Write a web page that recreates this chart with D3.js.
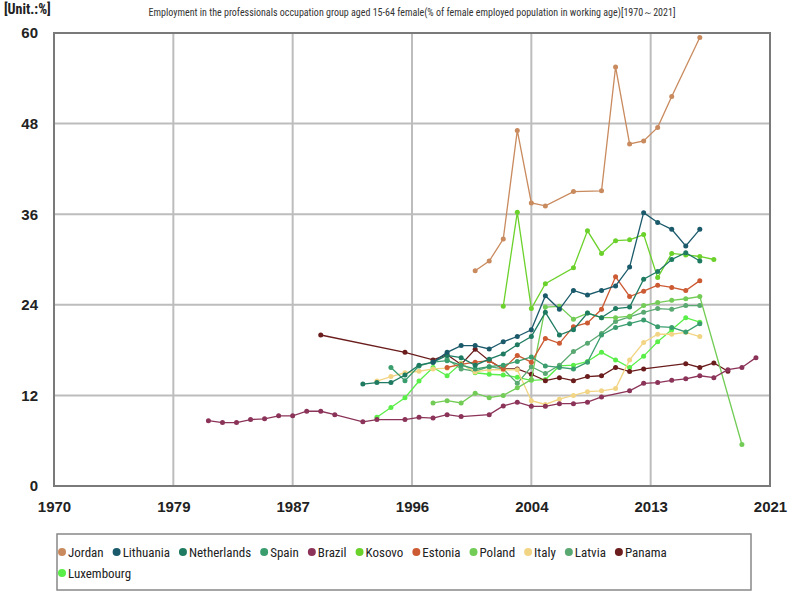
<!DOCTYPE html>
<html><head><meta charset="utf-8">
<script src="https://cdn.jsdelivr.net/npm/d3@7"></script>
<style>
body{margin:0;background:#fff;}
svg{font-family:"Liberation Sans Narrow","Roboto Condensed","Open Sans",sans-serif;}
</style></head>
<body><svg id="c" width="800" height="600"></svg>
<script>
const titleText = "Employment in the professionals occupation group aged 15-64 female(% of female employed population in working age)[1970～2021]";
const unitText = "[Unit.:%]";
const xTickValues = [1970, 1978.5, 1987, 1995.5, 2004, 2012.5, 2021];
const xTickLabels = ["1970", "1979", "1987", "1996", "2004", "2013", "2021"];
const yTickValues = [0, 12, 24, 36, 48, 60];

const seriesNames = ["Jordan","Lithuania","Netherlands","Spain","Brazil","Kosovo","Estonia","Poland","Italy","Latvia","Panama","Luxembourg"];
const seriesColors = ["#c98a5e","#1b5a6b","#1e7b62","#3a9d6e","#8b3358","#6bd12b","#cc5a32","#72cc55","#f2d584","#5aa872","#6b1d1d","#5aee48"];

const jordan = [[2000,28.5],[2001,29.8],[2002,32.7],[2003,47.1],[2004,37.5],[2005,37.1],[2007,39.0],[2009,39.1],[2010,55.5],[2011,45.3],[2012,45.7],[2013,47.5],[2014,51.6],[2016,59.4]];
const lithuania = [[1997,16.4],[1998,17.7],[1999,18.6],[2000,18.6],[2001,18.15],[2002,19.1],[2003,19.8],[2004,20.7],[2005,25.2],[2006,23.4],[2007,25.9],[2008,25.3],[2009,25.9],[2010,26.5],[2011,29.0],[2012,36.2],[2013,34.9],[2014,34.0],[2015,31.8],[2016,34.0]];
const netherlands = [[1992,13.5],[1993,13.7],[1994,13.7],[1995,14.7],[1996,16.0],[1997,16.4],[1998,17.3],[1999,17.0],[2000,16.0],[2001,16.8],[2002,17.5],[2003,18.7],[2004,19.8],[2005,23.0],[2006,20.0],[2007,20.7],[2008,22.9],[2009,22.3],[2010,23.5],[2011,23.7],[2012,27.4],[2013,28.4],[2014,30.0],[2015,30.9],[2016,29.8]];
const spain = [[1994,15.7],[1995,13.95],[1996,15.9],[1997,16.4],[1998,16.6],[1999,16.0],[2000,15.5],[2001,15.8],[2002,16.0],[2003,16.5],[2004,17.1],[2005,15.9],[2006,15.7],[2007,15.5],[2008,16.4],[2009,20.0],[2010,21.0],[2011,21.5],[2012,22.0],[2013,21.1],[2014,21.0],[2015,20.4],[2016,21.5]];
const brazil = [[1981,8.65],[1982,8.4],[1983,8.4],[1984,8.8],[1985,8.9],[1986,9.3],[1987,9.3],[1988,9.9],[1989,9.9],[1990,9.45],[1992,8.5],[1993,8.8],[1995,8.8],[1996,9.1],[1997,9.0],[1998,9.45],[1999,9.2],[2001,9.45],[2002,10.6],[2003,11.1],[2004,10.55],[2005,10.55],[2006,10.9],[2007,10.9],[2008,11.1],[2009,11.8],[2011,12.6],[2012,13.6],[2013,13.7],[2014,14.0],[2015,14.2],[2016,14.6],[2017,14.35],[2018,15.4],[2019,15.7],[2020,17.0]];
const kosovo = [[2002,23.8],[2003,36.25],[2004,23.5],[2005,26.8],[2007,28.9],[2008,33.8],[2009,30.8],[2010,32.5],[2011,32.6],[2012,33.3],[2013,27.6],[2014,30.8],[2015,30.6],[2016,30.4],[2017,30.0]];
const estonia = [[1998,15.7],[1999,16.1],[2000,16.4],[2001,16.6],[2002,15.5],[2003,17.3],[2004,16.4],[2005,19.55],[2006,18.9],[2007,21.1],[2008,21.6],[2009,23.4],[2010,27.7],[2011,25.1],[2012,25.8],[2013,26.6],[2014,26.3],[2015,25.9],[2016,27.2]];
const poland = [[1997,11.0],[1998,11.3],[1999,11.0],[2000,12.3],[2001,11.7],[2002,12.0],[2003,13.0],[2004,14.1],[2005,23.7],[2006,23.8],[2007,22.1],[2008,22.9],[2009,22.3],[2010,22.3],[2011,22.5],[2012,23.9],[2013,24.3],[2014,24.6],[2015,24.8],[2016,25.1],[2019,5.5]];
const italy = [[1993,13.9],[1994,14.5],[1995,15.0],[1996,15.2],[1997,15.5],[1998,15.6],[1999,16.2],[2000,15.1],[2001,15.4],[2002,15.4],[2003,15.4],[2004,11.3],[2005,10.8],[2006,11.5],[2007,12.0],[2008,12.5],[2009,12.6],[2010,12.9],[2011,16.7],[2012,19.0],[2013,20.1],[2014,20.1],[2015,20.35],[2016,19.8]];
const latvia = [[1998,16.8],[1999,15.5],[2000,15.2],[2001,15.8],[2002,15.5],[2003,13.6],[2004,15.8],[2005,14.9],[2006,16.0],[2007,17.8],[2008,18.9],[2009,20.2],[2010,21.8],[2011,22.4],[2012,23.0],[2013,23.5],[2014,23.4],[2015,23.9],[2016,23.9]];
const panama = [[1989,20.0],[1995,17.7],[1997,16.7],[1998,17.4],[1999,16.1],[2000,18.1],[2001,16.6],[2002,15.5],[2003,15.5],[2004,14.8],[2005,13.95],[2006,14.35],[2007,13.95],[2008,14.5],[2009,14.6],[2010,15.7],[2011,15.15],[2012,15.5],[2015,16.2],[2016,15.7],[2017,16.3],[2018,15.2]];
const luxembourg = [[1993,9.1],[1994,10.4],[1995,11.7],[1996,13.9],[1997,15.7],[1998,14.6],[1999,16.25],[2000,15.0],[2001,14.8],[2002,14.7],[2003,14.4],[2004,14.0],[2005,14.1],[2006,15.9],[2007,16.0],[2008,16.5],[2009,17.7],[2010,16.7],[2011,15.7],[2012,17.2],[2013,19.1],[2014,20.7],[2015,22.3],[2016,21.7]];

const seriesData = [jordan,lithuania,netherlands,spain,brazil,kosovo,estonia,poland,italy,latvia,panama,luxembourg];

const svg = d3.select("#c");
const m = {left:54, right:770, top:33, bottom:486};
const x = d3.scaleLinear().domain([1970, 2021]).range([m.left, m.right]);
const y = d3.scaleLinear().domain([0, 60]).range([m.bottom, m.top]);

// unit & title
svg.append("text").attr("x", 4).attr("y", 14).attr("font-size", 14).attr("font-weight", "bold").attr("fill", "#222").text(unitText);
svg.append("text").attr("x", 412).attr("y", 16).attr("text-anchor", "middle").attr("font-size", 10).attr("fill", "#333").text(titleText);

// grid
const g = svg.append("g");
g.selectAll("line.gx").data(xTickValues).join("line")
  .attr("x1", d => x(d)).attr("x2", d => x(d)).attr("y1", m.top).attr("y2", m.bottom)
  .attr("stroke", "#bdbdbd").attr("stroke-width", 2);
g.selectAll("line.gy").data(yTickValues).join("line")
  .attr("x1", m.left).attr("x2", m.right).attr("y1", d => y(d)).attr("y2", d => y(d))
  .attr("stroke", "#bdbdbd").attr("stroke-width", 2);
g.append("rect").attr("x", m.left).attr("y", m.top).attr("width", m.right - m.left).attr("height", m.bottom - m.top)
  .attr("fill", "none").attr("stroke", "#7a7a7a").attr("stroke-width", 2);

// axes
const xAxis = d3.axisBottom(x).tickValues(xTickValues).tickFormat((d, i) => xTickLabels[i]).tickSize(0).tickPadding(15);
svg.append("g").attr("transform", `translate(0,${m.bottom})`).call(xAxis)
  .call(a => a.select(".domain").remove())
  .selectAll("text").attr("font-size", 15).attr("font-weight", "bold").attr("fill", "#222").attr("font-family", "inherit");
const yAxis = d3.axisLeft(y).tickValues(yTickValues).tickSize(0).tickPadding(16);
svg.append("g").attr("transform", `translate(${m.left},0)`).call(yAxis)
  .call(a => a.select(".domain").remove())
  .selectAll("text").attr("font-size", 15).attr("font-weight", "bold").attr("fill", "#222").attr("font-family", "inherit");

// series
const line = d3.line().x(d => x(d[0])).y(d => y(d[1]));
const order = d3.range(seriesNames.length).reverse();
order.forEach(i => {
  const sg = svg.append("g");
  sg.append("path").datum(seriesData[i]).attr("d", line).attr("fill", "none")
    .attr("stroke", seriesColors[i]).attr("stroke-width", 1.3);
  sg.selectAll("circle").data(seriesData[i]).join("circle")
    .attr("cx", d => x(d[0])).attr("cy", d => y(d[1])).attr("r", 2.5).attr("fill", seriesColors[i]);
});

// legend
const lg = svg.append("g");
lg.append("rect").attr("x", 57).attr("y", 534).attr("width", 694).attr("height", 56)
  .attr("fill", "#fff").attr("stroke", "#888").attr("stroke-width", 1.5);
let lx = 62, ly = 552;
seriesNames.forEach((n, i) => {
  const it = lg.append("g");
  const t = it.append("text").attr("x", lx + 6).attr("y", ly + 4.5).attr("font-size", 13).attr("fill", "#222").text(n);
  const w = t.node().getComputedTextLength();
  if (lx + 6 + w > 748) {
    lx = 62; ly += 21;
    t.attr("x", lx + 6).attr("y", ly + 4.5);
  }
  it.append("circle").attr("cx", lx).attr("cy", ly).attr("r", 4).attr("fill", seriesColors[i]);
  lx += 6 + w + 13;
});
</script></body></html>
